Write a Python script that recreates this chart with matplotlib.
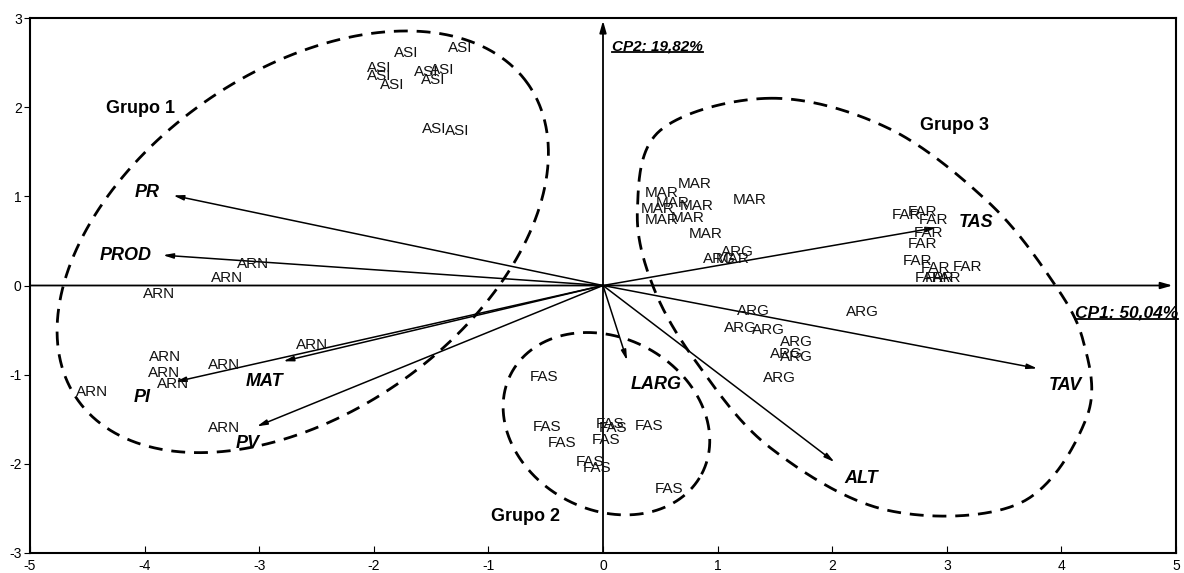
import numpy as np
import matplotlib
matplotlib.use("Agg")
import matplotlib.pyplot as plt

plt.rcParams["font.family"] = ["Liberation Sans", "DejaVu Sans"]
plt.rcParams["axes.unicode_minus"] = False

# observation scores (CP1, CP2)
asi_x = [-1.72, -1.25, -1.95, -1.95, -1.84, -1.54, -1.40, -1.48, -1.47, -1.27]
asi_y = [2.61, 2.66, 2.44, 2.35, 2.25, 2.39, 2.42, 2.30, 1.76, 1.73]
arn_x = [-3.05, -3.28, -3.87, -2.54, -3.82, -3.31, -3.83, -3.75, -4.46, -3.31]
arn_y = [0.24, 0.08, -0.09, -0.67, -0.80, -0.89, -0.98, -1.10, -1.19, -1.60]
mar_x = [0.80, 0.51, 1.28, 0.61, 0.48, 0.82, 0.51, 0.74, 0.90, 1.13]
mar_y = [1.14, 1.04, 0.96, 0.93, 0.86, 0.89, 0.73, 0.76, 0.58, 0.30]
arg_x = [1.17, 1.02, 1.31, 2.26, 1.20, 1.44, 1.69, 1.60, 1.69, 1.54]
arg_y = [0.38, 0.30, -0.29, -0.30, -0.48, -0.50, -0.63, -0.77, -0.80, -1.04]
far_x = [2.65, 2.79, 2.88, 2.84, 2.79, 2.74, 2.90, 3.18, 2.85, 2.94, 3.00]
far_y = [0.79, 0.82, 0.74, 0.59, 0.47, 0.28, 0.20, 0.21, 0.08, 0.08, 0.08]
fas_x = [-0.51, -0.49, -0.36, 0.06, 0.09, 0.40, 0.03, -0.11, -0.05, 0.58]
fas_y = [-1.03, -1.59, -1.77, -1.55, -1.60, -1.58, -1.73, -1.98, -2.05, -2.28]

# variable loadings
var_names = ["PR", "PROD", "PI", "MAT", "PV", "LARG", "ALT", "TAV", "TAS"]
var_x = [-3.75, -3.84, -3.73, -2.79, -3.02, 0.21, 2.02, 3.79, 2.91]
var_y = [1.01, 0.34, -1.08, -0.85, -1.58, -0.84, -1.98, -0.93, 0.65]

# group outlines
g1_ellipse = (-2.62, 0.49, 2.40, 1.49, 35)    # cx, cy, a, b (x units), angle
g2_ellipse = (0.03, -1.55, 0.94, 0.75, -28)
g3_x = [1.46, 0.50, 0.30, 0.44, 0.82, 1.46, 2.48, 3.64, 4.22, 4.19, 3.90, 3.35, 2.48]
g3_y = [2.10, 1.74, 0.84, -0.02, -0.87, -1.82, -2.52, -2.44, -1.48, -0.62, 0.09, 0.95, 1.77]

group_names = ["Grupo 1", "Grupo 2", "Grupo 3"]
group_x = [-4.04, -0.68, 3.07]
group_y = [1.98, -2.59, 1.79]

# label offsets in pixels
label_off = {"PR": (-26, 3), "PROD": (-37, 0), "PI": (-33, -16), "MAT": (-19, -20),
             "PV": (-9, -17), "LARG": (29, -24), "ALT": (27, -16), "TAV": (28, -17),
             "TAS": (40, 5)}


def ellipse_pts(cx, cy, a, b, ang, r):
    t = np.linspace(0, 2 * np.pi, 400)
    th = np.radians(ang)
    x = cx + a * np.cos(t) * np.cos(th) - b * np.sin(t) * np.sin(th)
    y = cy + (a * np.cos(t) * np.sin(th) + b * np.sin(t) * np.cos(th)) * r
    return x, y


def closed_spline(px, py, n=40):
    P = np.column_stack([px, py])
    N = len(P)
    t = np.linspace(0, 1, n, endpoint=False)[:, None]
    out = []
    for i in range(N):
        p0, p1, p2, p3 = P[i - 1], P[i], P[(i + 1) % N], P[(i + 2) % N]
        out.append(0.5 * (2 * p1 + (-p0 + p2) * t + (2 * p0 - 5 * p1 + 4 * p2 - p3) * t ** 2
                          + (-p0 + 3 * p1 - 3 * p2 + p3) * t ** 3))
    out.append(out[0][:1])
    out = np.vstack(out)
    return out[:, 0], out[:, 1]


fig = plt.figure(figsize=(11.84, 5.73), dpi=100)
ax = fig.add_axes([30 / 1184, 20 / 573, 1146 / 1184, 535 / 573])
ax.set_xlim(-5, 5)
ax.set_ylim(-3, 3)
ax.set_xticks(range(-5, 6))
ax.set_yticks(range(-3, 4))
ax.tick_params(axis="x", direction="in", length=5, labelsize=10, pad=4)
ax.tick_params(axis="y", direction="out", length=4, labelsize=10, pad=2)
for s in ax.spines.values():
    s.set_linewidth(1.5)

# x units -> y units ratio on screen
pos = ax.get_position()
r = (pos.width * 1184 / 10) / (pos.height * 573 / 6)

# main axes with arrows
arrow_kw = dict(arrowstyle="-|>,head_length=0.7,head_width=0.2", color="black", lw=1.3,
                shrinkA=0, shrinkB=0)
ax.annotate("", xy=(4.97, 0), xytext=(-5, 0), arrowprops=arrow_kw, annotation_clip=False)
ax.annotate("", xy=(0, 2.97), xytext=(0, -3), arrowprops=arrow_kw, annotation_clip=False)

# variable arrows
var_kw = dict(arrowstyle="-|>,head_length=0.6,head_width=0.15", color="black", lw=1.1,
              shrinkA=0, shrinkB=0)
for name, vx, vy in zip(var_names, var_x, var_y):
    ax.annotate("", xy=(vx, vy), xytext=(0, 0), arrowprops=var_kw)
    ax.annotate(name, xy=(vx, vy), xytext=label_off[name], textcoords="offset pixels",
                ha="center", va="center", fontsize=13, fontweight="bold", style="italic")

# observation labels
for lab, xs, ys in [("ASI", asi_x, asi_y), ("ARN", arn_x, arn_y), ("MAR", mar_x, mar_y),
                    ("ARG", arg_x, arg_y), ("FAR", far_x, far_y), ("FAS", fas_x, fas_y)]:
    for x, y in zip(xs, ys):
        ax.text(x, y, lab, ha="center", va="center", fontsize=11, color="#111111")

# group outlines
dash_kw = dict(color="black", lw=2, dashes=(5, 3.2))
ex, ey = ellipse_pts(*g1_ellipse, r)
ax.plot(ex, ey, **dash_kw)
ex, ey = ellipse_pts(*g2_ellipse, r)
ax.plot(ex, ey, **dash_kw)
sx, sy = closed_spline(g3_x, g3_y)
ax.plot(sx, sy, **dash_kw)

for name, gx, gy in zip(group_names, group_x, group_y):
    ax.text(gx, gy, name, ha="center", va="center", fontsize=13, fontweight="bold")

# component titles, underlined
fig.canvas.draw()
renderer = fig.canvas.get_renderer()
for txt, x, y, fs in [("CP2: 19,82%", 0.08, 2.68, 11), ("CP1: 50,04%", 4.12, -0.31, 12.5)]:
    t = ax.text(x, y, txt, ha="left", va="center", fontsize=fs, fontweight="bold",
                style="italic", clip_on=False)
    bb = t.get_window_extent(renderer).transformed(fig.transFigure.inverted())
    fig.add_artist(plt.Line2D([bb.x0, bb.x1], [bb.y0 + 0.002, bb.y0 + 0.002], color="black",
                              lw=1.3, transform=fig.transFigure))

fig.savefig("out.png", dpi=100)
